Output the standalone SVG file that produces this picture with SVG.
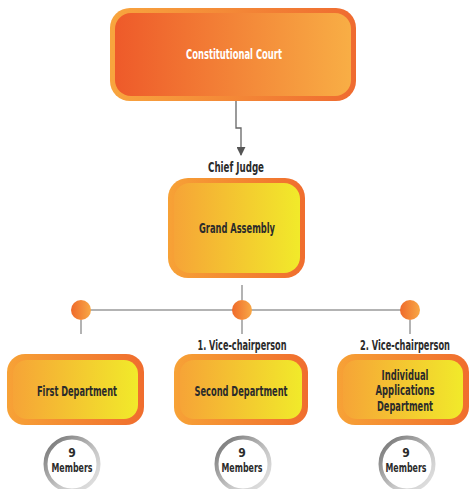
<svg xmlns="http://www.w3.org/2000/svg" width="469" height="489" viewBox="0 0 469 489">
<defs>
<linearGradient id="topOuter" x1="0" y1="0" x2="1" y2="0"><stop offset="0" stop-color="#f8a53e"/><stop offset="1" stop-color="#ef6b30"/></linearGradient>
<linearGradient id="topInner" x1="0" y1="0" x2="1" y2="0"><stop offset="0" stop-color="#ee5a2a"/><stop offset="1" stop-color="#f8ae45"/></linearGradient>
<linearGradient id="yOuter" x1="0" y1="0" x2="1" y2="0"><stop offset="0" stop-color="#f7a236"/><stop offset="1" stop-color="#f06d2e"/></linearGradient>
<linearGradient id="yInner" x1="0" y1="0" x2="1" y2="0"><stop offset="0" stop-color="#f6a437"/><stop offset="1" stop-color="#f1ea2a"/></linearGradient>
<linearGradient id="dot" x1="0" y1="0" x2="1" y2="0"><stop offset="0" stop-color="#ef6a2a"/><stop offset="1" stop-color="#f8a846"/></linearGradient>
<linearGradient id="ring" x1="0" y1="0" x2="1" y2="1"><stop offset="0" stop-color="#6e6e6e"/><stop offset="0.6" stop-color="#c8c8c8"/><stop offset="1" stop-color="#e6e6e6"/></linearGradient>
<marker id="arr" viewBox="0 0 10 10" refX="9" refY="5" markerWidth="9" markerHeight="9" markerUnits="userSpaceOnUse" orient="auto"><path d="M0,0 L10,5 L0,10 Z" fill="#555"/></marker>
</defs>
<style>
text{font-family:"DejaVu Sans Condensed","Liberation Sans Narrow","DejaVu Sans",sans-serif;font-stretch:condensed;font-weight:bold;text-anchor:middle;fill:#2b2b2b;font-size:14px}
.w{fill:#ffffff}
.m{font-size:12px}
.ln{stroke:#9a9a9a;stroke-width:1.5;fill:none}
.ring{fill:#ffffff;stroke:url(#ring);stroke-width:4}
.dot{fill:url(#dot)}
</style>
<g id="connectors">
<path d="M236,101 V128 H241 V155" stroke="#666" stroke-width="1.3" fill="none" marker-end="url(#arr)"/>
<line class="ln" x1="242" y1="285" x2="242" y2="300"/>
<line class="ln" x1="81" y1="310" x2="410" y2="310"/>
<line class="ln" x1="81" y1="320" x2="81" y2="334"/>
<line class="ln" x1="242" y1="320" x2="242" y2="334"/>
<line class="ln" x1="410" y1="320" x2="410" y2="334"/>
<circle class="dot" cx="81" cy="310" r="10"/>
<circle class="dot" cx="242" cy="310" r="10"/>
<circle class="dot" cx="410" cy="310" r="10"/>
</g>
<g id="constitutional-court">
<rect x="110" y="8" width="246" height="93" rx="20" fill="url(#topOuter)"/>
<rect x="115" y="13" width="236" height="83" rx="16" fill="url(#topInner)"/>
<text class="w" x="234" y="59" textLength="96" lengthAdjust="spacingAndGlyphs">Constitutional Court</text>
</g>
<g id="chief-judge">
<text x="236" y="172" textLength="56" lengthAdjust="spacingAndGlyphs">Chief Judge</text>
</g>
<g id="grand-assembly">
<rect x="168" y="178" width="137" height="100" rx="20" fill="url(#yOuter)"/>
<rect x="174" y="183" width="126" height="90" rx="16" fill="url(#yInner)"/>
<text x="237" y="233" textLength="76" lengthAdjust="spacingAndGlyphs">Grand Assembly</text>
</g>
<g id="vice1">
<text x="242" y="350" textLength="89" lengthAdjust="spacingAndGlyphs">1. Vice-chairperson</text>
</g>
<g id="vice2">
<text x="405" y="350" textLength="90" lengthAdjust="spacingAndGlyphs">2. Vice-chairperson</text>
</g>
<g id="first-department">
<rect x="7" y="354" width="137" height="71" rx="18" fill="url(#yOuter)"/>
<rect x="13" y="360" width="125" height="59" rx="14" fill="url(#yInner)"/>
<text x="77" y="396" textLength="80" lengthAdjust="spacingAndGlyphs">First Department</text>
</g>
<g id="second-department">
<rect x="174" y="354" width="134" height="71" rx="18" fill="url(#yOuter)"/>
<rect x="180" y="360" width="122" height="59" rx="14" fill="url(#yInner)"/>
<text x="241" y="396" textLength="93" lengthAdjust="spacingAndGlyphs">Second Department</text>
</g>
<g id="individual-applications-department">
<rect x="337" y="354" width="132" height="71" rx="18" fill="url(#yOuter)"/>
<rect x="343" y="360" width="120" height="59" rx="14" fill="url(#yInner)"/>
<text x="405" y="380" textLength="47" lengthAdjust="spacingAndGlyphs">Individual</text>
<text x="405" y="395" textLength="59" lengthAdjust="spacingAndGlyphs">Applications</text>
<text x="405" y="411" textLength="56" lengthAdjust="spacingAndGlyphs">Department</text>
</g>
<g id="members-1">
<circle class="ring" cx="72" cy="464" r="26.5"/>
<text class="m" x="72" y="457">9</text>
<text class="m" x="72" y="472" textLength="41" lengthAdjust="spacingAndGlyphs">Members</text>
</g>
<g id="members-2">
<circle class="ring" cx="243" cy="464" r="26.5"/>
<text class="m" x="242" y="457">9</text>
<text class="m" x="242" y="472" textLength="41" lengthAdjust="spacingAndGlyphs">Members</text>
</g>
<g id="members-3">
<circle class="ring" cx="407" cy="464" r="26.5"/>
<text class="m" x="406" y="457">9</text>
<text class="m" x="406" y="472" textLength="41" lengthAdjust="spacingAndGlyphs">Members</text>
</g>
</svg>
